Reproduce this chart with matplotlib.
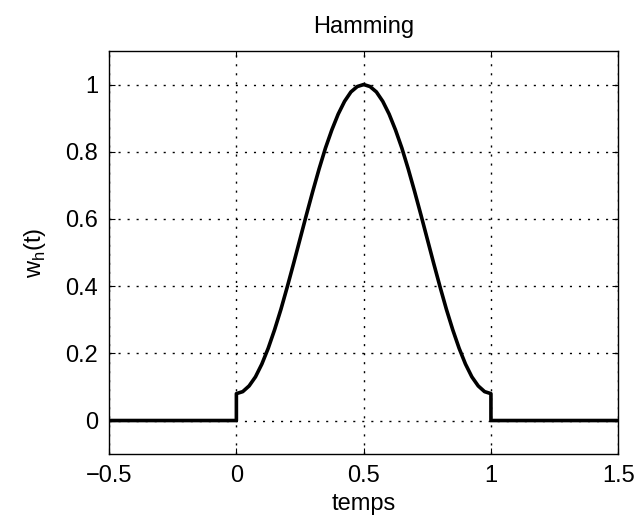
import matplotlib.pyplot as plt

# Hamming window values (t from 0 to 1, step 0.025)
t_win = [0.0, 0.025, 0.05, 0.075, 0.1, 0.125, 0.15, 0.175, 0.2, 0.225, 0.25,
         0.275, 0.3, 0.325, 0.35, 0.375, 0.4, 0.425, 0.45, 0.475, 0.5,
         0.525, 0.55, 0.575, 0.6, 0.625, 0.65, 0.675, 0.7, 0.725, 0.75,
         0.775, 0.8, 0.825, 0.85, 0.875, 0.9, 0.925, 0.95, 0.975, 1.0]
w_win = [0.08, 0.086, 0.103, 0.130, 0.168, 0.215, 0.270, 0.331, 0.398, 0.468, 0.54,
         0.612, 0.682, 0.749, 0.811, 0.865, 0.912, 0.950, 0.978, 0.994, 1.0,
         0.994, 0.978, 0.950, 0.912, 0.865, 0.811, 0.749, 0.682, 0.612, 0.54,
         0.468, 0.398, 0.331, 0.270, 0.215, 0.168, 0.130, 0.103, 0.086, 0.08]

# zero outside the window
t = [-0.5, 0.0] + t_win + [1.0, 1.5]
w = [0.0, 0.0] + w_win + [0.0, 0.0]

xticks = [-0.5, 0, 0.5, 1, 1.5]
xticklabels = ['\u22120.5', '0', '0.5', '1', '1.5']
yticks = [0, 0.2, 0.4, 0.6, 0.8, 1]
yticklabels = ['0', '0.2', '0.4', '0.6', '0.8', '1']

plt.rcParams['font.family'] = ['Liberation Sans', 'DejaVu Sans']

fig = plt.figure(figsize=(6.38, 5.25), dpi=100)
ax = fig.add_axes([0.171, 0.135, 0.798, 0.768])

ax.plot(t, w, color='black', lw=2.6, solid_joinstyle='round')

ax.set_xlim(-0.5, 1.5)
ax.set_ylim(-0.1, 1.1)
ax.set_xticks(xticks)
ax.set_xticklabels(xticklabels)
ax.set_yticks(yticks)
ax.set_yticklabels(yticklabels)
ax.tick_params(direction='in', length=4, width=0.8, labelsize=17, pad=8,
               top=True, right=True)
ax.grid(True, color='black', lw=1.0, linestyle=(0, (1.5, 5)))
ax.set_axisbelow(True)
for s in ax.spines.values():
    s.set_linewidth(1.0)

ax.set_title('Hamming', fontsize=17, pad=13)
ax.set_xlabel('temps', fontsize=17, labelpad=4)
ax.set_ylabel('w$_\\mathregular{h}$(t)', fontsize=17, labelpad=12)

fig.savefig('out.png', dpi=100)
